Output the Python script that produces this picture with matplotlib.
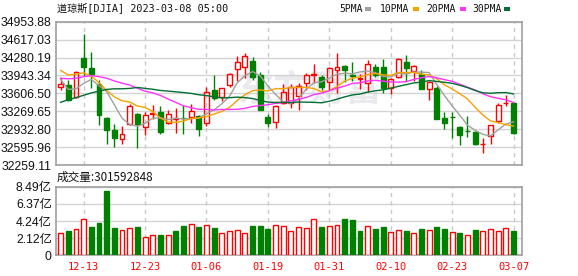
import matplotlib
matplotlib.use("Agg")
import matplotlib.pyplot as plt
from matplotlib.patches import Rectangle
import numpy as np
import pandas as pd

plt.rcParams["font.family"] = ["Liberation Sans", "Noto Sans CJK SC"]

# ----------------------------------------------------------------------
# data (DJIA daily, 2022-12-08 .. 2023-03-07)
# ----------------------------------------------------------------------
dates = ["12-08", "12-09", "12-12", "12-13", "12-14", "12-15", "12-16", "12-19", "12-20", "12-21",
         "12-22", "12-23", "12-27", "12-28", "12-29", "12-30", "01-03", "01-04", "01-05", "01-06",
         "01-09", "01-10", "01-11", "01-12", "01-13", "01-17", "01-18", "01-19", "01-20", "01-23",
         "01-24", "01-25", "01-26", "01-27", "01-30", "01-31", "02-01", "02-02", "02-03", "02-06",
         "02-07", "02-08", "02-09", "02-10", "02-13", "02-14", "02-15", "02-16", "02-17", "02-21",
         "02-22", "02-23", "02-24", "02-27", "02-28", "03-01", "03-02", "03-03", "03-06", "03-07"]
opens = [33725, 33757, 33536, 34271, 34085, 33783, 33151, 32913, 32743, 33032,
         33227, 32973, 33220, 33250, 33058, 33121, 33148, 33169, 33180, 33049,
         33673, 33541, 33767, 34071, 34102, 34223, 33953, 33163, 33069, 33429,
         33434, 33556, 33793, 33953, 33905, 33823, 34049, 34116, 33950, 33880,
         33794, 34111, 34094, 33700, 33908, 34189, 34034, 33978, 33690, 33705,
         33151, 33165, 32979, 32900, 32882, 32650, 32798, 33091, 33420, 33419]
highs = [33900, 33851, 34024, 34721, 34385, 33858, 33160, 33032, 32993, 33414,
         33240, 33254, 33385, 33363, 33295, 33334, 33388, 33407, 33193, 33724,
         33955, 33716, 33985, 34302, 34365, 34285, 34015, 33219, 33380, 33773,
         33790, 33800, 33980, 34153, 33943, 34105, 34361, 34141, 34195, 33972,
         34232, 34155, 34250, 33888, 34271, 34320, 34140, 34041, 33846, 33736,
         33251, 33248, 32992, 33189, 32894, 32762, 33016, 33416, 33575, 33450]
lows = [33662, 33457, 33524, 33940, 33710, 33014, 32651, 32595, 32662, 33007,
        32577, 32817, 33116, 32844, 33033, 32859, 32851, 33050, 32805, 32987,
        33486, 33466, 33723, 33840, 33896, 33860, 33285, 32969, 32950, 33410,
        33322, 33300, 33668, 33809, 33673, 33667, 33605, 33829, 33835, 33697,
        33625, 33905, 33612, 33588, 33896, 33839, 33847, 33684, 33483, 33125,
        32945, 32767, 32629, 32795, 32644, 32493, 32654, 33041, 33375, 32844]
closes = [33781.48, 33476.46, 34005.04, 34108.64, 33966.35, 33202.22, 32920.46, 32757.54, 32849.74, 33376.48,
          33027.49, 33203.93, 33241.56, 32875.71, 33220.80, 33147.25, 33136.37, 33269.77, 32930.08, 33630.61,
          33517.65, 33704.10, 33973.01, 34189.97, 34302.61, 33910.85, 33296.96, 33044.56, 33375.49, 33629.56,
          33733.96, 33743.84, 33949.41, 33978.08, 33717.09, 34086.04, 34092.96, 34053.94, 33926.01, 33891.02,
          34156.69, 33949.01, 33699.88, 33869.27, 34245.93, 34089.27, 34128.05, 33696.85, 33826.69, 33129.59,
          33045.09, 33153.91, 32816.92, 32889.09, 32656.70, 32661.84, 33003.57, 33390.97, 33431.44, 32856.46]
# closes before the first shown day (10-27 .. 12-07), needed by the moving averages
prior_closes = [32033.28, 32861.80, 32732.95, 32653.20, 32147.76, 32001.25, 32403.22, 32827.00, 33160.83, 32513.94,
                33715.37, 33747.86, 33536.70, 33592.92, 33553.83, 33546.32, 33745.69, 33700.28, 34098.10, 34194.06,
                34347.03, 33849.46, 33852.53, 34589.77, 34395.01, 34429.88, 33947.10, 33596.34, 33597.92]
# volume in 亿
volumes = [2.72, 3.01, 3.25, 4.45, 3.50, 4.00, 7.95, 3.38, 3.13, 3.34,
           3.50, 2.22, 2.47, 2.51, 2.47, 3.01, 3.63, 3.83, 3.50, 3.71,
           3.38, 2.72, 3.01, 3.13, 2.72, 3.63, 3.63, 3.25, 3.71, 3.58,
           3.01, 3.46, 3.38, 4.45, 3.50, 3.58, 3.71, 4.49, 4.37, 3.01,
           3.58, 3.25, 3.50, 2.84, 3.13, 3.01, 2.72, 3.25, 3.13, 3.50,
           3.25, 2.84, 2.76, 2.47, 3.13, 3.01, 3.25, 3.01, 3.38, 3.0159]
last_volume = 301592848

price_ticks = [32259.11, 32595.96, 32932.80, 33269.65, 33606.50, 33943.34, 34280.19, 34617.03, 34953.88]
vol_ticks = [0, 2.12, 4.24, 6.37, 8.49]
date_ticks = ["12-13", "12-23", "01-06", "01-19", "01-31", "02-10", "02-23", "03-07"]
title = "道琼斯[DJIA] 2023-03-08 05:00"
ma_windows = [5, 10, 20, 30]
ma_names = ["5PMA", "10PMA", "20PMA", "30PMA"]
ma_colors = ["#a0a0a0", "#f5a300", "#ff33ff", "#006f33"]

RED = "#ff0000"
GREEN = "#008000"
FRAME = "#a0a0a0"
GRID = "#d4d4d4"
MONO = ["DejaVu Sans Mono", "Noto Sans CJK SC"]

W, H = 578, 276
fig = plt.figure(figsize=(W / 100, H / 100), dpi=100)
ax = fig.add_axes([56 / W, 1 - 165 / H, 466 / W, 143.3 / H])
axv = fig.add_axes([56 / W, 1 - 255.3 / H, 466 / W, 68.6 / H])

x = np.arange(len(dates))
o = np.array(opens, float)
c = np.array(closes, float)
hi = np.array(highs, float)
lo = np.array(lows, float)
up = c >= o
col = np.where(up, RED, GREEN)
body_lo = np.minimum(o, c)
body_hi = np.maximum(o, c)
bw = 0.64

# ---------------- price panel ----------------
ax.vlines(x, lo, body_lo, color=col, lw=1, zorder=3)
ax.vlines(x, body_hi, hi, color=col, lw=1, zorder=3)
ax.bar(x, np.maximum(body_hi - body_lo, 4), bottom=body_lo, width=bw,
       facecolor=np.where(up, "none", GREEN), edgecolor=col, lw=1, zorder=3)

all_close = pd.Series(prior_closes + closes)
for win, color in zip(ma_windows, ma_colors):
    ma = all_close.rolling(win).mean().iloc[len(prior_closes):].values
    ax.plot(x, ma, color=color, lw=1, zorder=4)

ax.text(0.545, 0.52, "东方财富", transform=ax.transAxes, ha="center", va="center",
        fontsize=26, fontweight="bold", color="#e9e9ee", family="Noto Sans CJK SC", zorder=0)

# ---------------- volume panel ----------------
prev = np.array([prior_closes[-1]] + closes[:-1])
vup = c >= prev
vcol = np.where(vup, RED, GREEN)
axv.bar(x, volumes, width=bw, facecolor=np.where(vup, "white", GREEN),
        edgecolor=vcol, lw=1, zorder=3)

tick_pos = [dates.index(d) for d in date_ticks]
for a in (ax, axv):
    a.set_xlim(-0.6, 60.1)
    for p in tick_pos:
        a.axvline(p, color="#c8c8c8", lw=1, ls=(0, (3, 3)), zorder=1)
    for s in a.spines.values():
        s.set_color(FRAME)
        s.set_linewidth(1.2)
    a.tick_params(length=0, pad=3, labelsize=8.8, colors="#111111")
    a.set_xticks(tick_pos)
    a.grid(axis="y", color=GRID, lw=1, zorder=1)
    a.set_axisbelow(True)

ax.set_ylim(price_ticks[0], price_ticks[-1])
ax.set_yticks(price_ticks)
ax.set_yticklabels([f"{t:.2f}" for t in price_ticks])
ax.set_xticklabels([])

axv.set_ylim(0, vol_ticks[-1])
axv.set_yticks(vol_ticks)
axv.set_yticklabels(["0"] + [f"{t:.2f}亿" for t in vol_ticks[1:]])
axv.set_xticklabels(date_ticks, color=RED, family=MONO, fontsize=7.5)
axv.tick_params(axis="x", pad=5)

# ---------------- header texts ----------------
fig.text(57 / W, 1 - 9 / H, title, ha="left", va="center", fontsize=7.3, family=MONO, color="#111111")
fig.text(57 / W, 1 - 177 / H, f"成交量:{last_volume}", ha="left", va="center",
         fontsize=8.4, family="Noto Sans CJK SC", color="#111111")

leg_x = [339, 380, 426, 472]
mark_x = [365, 412.5, 460, 504]
for name, lx, mx, color in zip(ma_names, leg_x, mark_x, ma_colors):
    fig.text(lx / W, 1 - 9 / H, name, ha="left", va="center", fontsize=7.0, family=MONO, color="#111111")
    fig.add_artist(Rectangle((mx / W, 1 - 10.5 / H), 6 / W, 3 / H, transform=fig.transFigure,
                             facecolor=color, edgecolor="none"))

fig.savefig("out.png", dpi=100)
